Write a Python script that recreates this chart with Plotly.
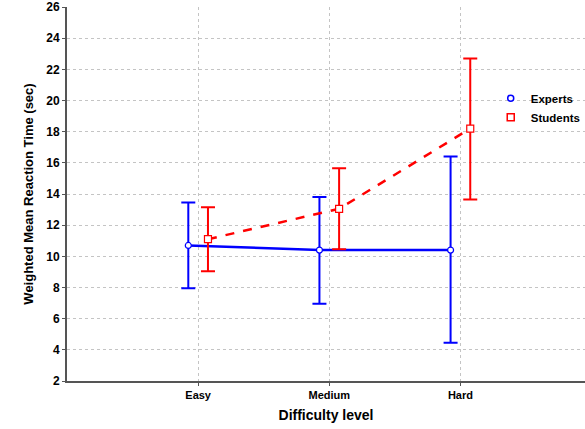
import plotly.graph_objects as go

categories = ["Easy", "Medium", "Hard"]
experts_mean = [10.7, 10.4, 10.4]
experts_upper = [13.45, 13.8, 16.4]
experts_lower = [7.95, 6.95, 4.45]
students_mean = [11.1, 13.05, 18.2]
students_upper = [13.15, 15.65, 22.7]
students_lower = [9.05, 10.45, 13.65]
y_ticks = list(range(2, 27, 2))

base = [i + 1 for i in range(len(categories))]
off = 0.075
BLUE = "#0000ff"
RED = "#ff0000"

fig = go.Figure()
fig.add_trace(go.Scatter(
    x=[b - off for b in base], y=experts_mean, name="Experts", showlegend=False,
    mode="lines+markers",
    line=dict(color=BLUE, width=2.5),
    marker=dict(symbol="circle", size=6, color="white", line=dict(color=BLUE, width=1.2)),
    error_y=dict(type="data", symmetric=False,
                 array=[u - m for u, m in zip(experts_upper, experts_mean)],
                 arrayminus=[m - l for l, m in zip(experts_lower, experts_mean)],
                 color=BLUE, thickness=2, width=7),
))
fig.add_trace(go.Scatter(
    x=[b + off for b in base], y=students_mean, name="Students", showlegend=False,
    mode="lines+markers",
    line=dict(color=RED, width=2.5, dash="dash"),
    marker=dict(symbol="square", size=7, color="white", line=dict(color=RED, width=1.2)),
    error_y=dict(type="data", symmetric=False,
                 array=[u - m for u, m in zip(students_upper, students_mean)],
                 arrayminus=[m - l for l, m in zip(students_lower, students_mean)],
                 color=RED, thickness=2, width=7),
))
# legend entries (marker-only icons)
fig.add_trace(go.Scatter(x=[None], y=[None], name="Experts", mode="markers",
                         marker=dict(symbol="circle", size=6, color="white", line=dict(color=BLUE, width=1.5))))
fig.add_trace(go.Scatter(x=[None], y=[None], name="Students", mode="markers",
                         marker=dict(symbol="square", size=7, color="white", line=dict(color=RED, width=1.5))))

font_fam = "Liberation Sans, Arial, sans-serif"
fig.update_layout(
    width=585, height=429,
    margin=dict(l=67, r=0, t=7, b=48, autoexpand=False),
    paper_bgcolor="white", plot_bgcolor="white",
    font=dict(family=font_fam, color="black"),
    showlegend=True,
    legend=dict(x=0.818, y=0.795, xanchor="left", yanchor="top",
                bgcolor="rgba(0,0,0,0)",
                font=dict(family=font_fam, size=11.5, color="black", weight="bold"),
                tracegroupgap=0, itemwidth=30),
    xaxis=dict(range=[0, 3.95], tickvals=base, ticktext=categories,
               showgrid=True, gridcolor="#c4c4c4", griddash="dot", gridwidth=1,
               showline=True, linecolor="#555555", linewidth=2,
               ticks="outside", ticklen=3, tickcolor="#555555",
               tickfont=dict(size=11, weight="bold"),
               title=dict(text="Difficulty level", font=dict(size=14, weight="bold"), standoff=10),
               zeroline=False),
    yaxis=dict(range=[2, 26], tickvals=y_ticks,
               showgrid=True, gridcolor="#c4c4c4", griddash="dot", gridwidth=1,
               showline=True, linecolor="#555555", linewidth=2,
               ticks="outside", ticklen=3, tickcolor="#555555",
               tickfont=dict(size=12, weight="bold"),
               title=dict(text="Weighted Mean Reaction Time (sec)", font=dict(size=13, weight="bold"), standoff=10),
               zeroline=False),
)
fig.write_html("out.html")
